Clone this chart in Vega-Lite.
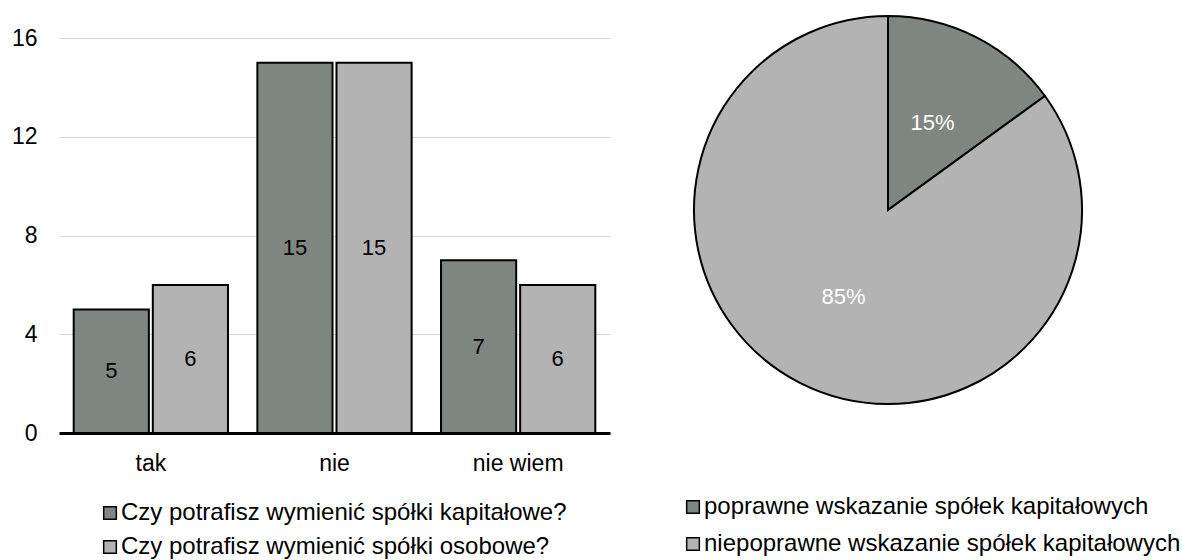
{
  "$schema": "https://vega.github.io/schema/vega-lite/v6.json",
  "padding": {"left": 11, "top": 12, "right": 0, "bottom": 0},
  "spacing": 71,
  "config": {
    "view": {"stroke": null},
    "font": "Liberation Sans",
    "text": {"font": "Liberation Sans"},
    "legend": {"labelFont": "Liberation Sans", "padding": 0},
    "axis": {"labelFont": "Liberation Sans"}
  },
  "resolve": {"scale": {"color": "independent"}, "legend": {"color": "independent"}},
  "hconcat": [
    {
      "width": 551,
      "height": 395,
      "data": {
        "values": [
          {"odpowiedz": "tak", "pytanie": "Czy potrafisz wymienić spółki kapitałowe?", "liczba": 5},
          {"odpowiedz": "tak", "pytanie": "Czy potrafisz wymienić spółki osobowe?", "liczba": 6},
          {"odpowiedz": "nie", "pytanie": "Czy potrafisz wymienić spółki kapitałowe?", "liczba": 15},
          {"odpowiedz": "nie", "pytanie": "Czy potrafisz wymienić spółki osobowe?", "liczba": 15},
          {"odpowiedz": "nie wiem", "pytanie": "Czy potrafisz wymienić spółki kapitałowe?", "liczba": 7},
          {"odpowiedz": "nie wiem", "pytanie": "Czy potrafisz wymienić spółki osobowe?", "liczba": 6}
        ]
      },
      "encoding": {
        "x": {
          "field": "odpowiedz", "type": "nominal", "sort": ["tak", "nie", "nie wiem"],
          "scale": {"paddingInner": 0.16, "paddingOuter": 0.08},
          "axis": {"title": null, "labelAngle": 0, "labelFontSize": 23, "labelColor": "#000", "domainColor": "#000", "domainWidth": 3, "ticks": false, "labelPadding": 19, "grid": false}
        },
        "xOffset": {
          "field": "pytanie", "type": "nominal",
          "sort": ["Czy potrafisz wymienić spółki kapitałowe?", "Czy potrafisz wymienić spółki osobowe?"],
          "scale": {"paddingInner": 0.05}
        }
      },
      "layer": [
        {
          "mark": {"type": "bar", "stroke": "#000", "strokeWidth": 2},
          "encoding": {
            "y": {
              "field": "liczba", "type": "quantitative",
              "scale": {"domain": [0, 16], "nice": false},
              "axis": {"values": [0, 4, 8, 12, 16], "title": null, "domain": false, "ticks": false, "labelFontSize": 23, "labelColor": "#000", "labelPadding": 22, "gridColor": "#d9d9d9", "gridWidth": 1}
            },
            "color": {
              "field": "pytanie", "type": "nominal",
              "scale": {
                "domain": ["Czy potrafisz wymienić spółki kapitałowe?", "Czy potrafisz wymienić spółki osobowe?"],
                "range": ["#7f8682", "#b3b3b3"]
              },
              "legend": {
                "title": null, "orient": "none", "legendX": 39, "legendY": 463,
                "symbolType": "square", "symbolSize": 160, "symbolStrokeColor": "#000", "symbolStrokeWidth": 1.5,
                "labelFontSize": 24, "labelColor": "#000", "labelOffset": -1, "rowPadding": 10, "labelLimit": 700
              }
            }
          }
        },
        {
          "mark": {"type": "text", "fontSize": 22, "color": "#000"},
          "encoding": {
            "y": {"field": "liczba", "type": "quantitative", "scale": {"domain": [0, 32], "nice": false}, "axis": null},
            "text": {"field": "liczba", "type": "quantitative"}
          }
        }
      ],
      "resolve": {"scale": {"y": "independent"}}
    },
    {
      "width": 390,
      "height": 344,
      "data": {
        "values": [
          {"odpowiedz": "poprawne wskazanie spółek kapitałowych", "udzial": 0.15},
          {"odpowiedz": "niepoprawne wskazanie spółek kapitałowych", "udzial": 0.85}
        ]
      },
      "encoding": {
        "theta": {"field": "udzial", "type": "quantitative", "stack": true},
        "order": {"field": "udzial", "type": "quantitative", "sort": "ascending"}
      },
      "layer": [
        {
          "mark": {"type": "arc", "radius": 194, "stroke": "#000", "strokeWidth": 2},
          "encoding": {
            "color": {
              "field": "odpowiedz", "type": "nominal",
              "scale": {
                "domain": ["poprawne wskazanie spółek kapitałowych", "niepoprawne wskazanie spółek kapitałowych"],
                "range": ["#7f8682", "#b3b3b3"]
              },
              "legend": {
                "title": null, "orient": "none", "legendX": -12, "legendY": 457,
                "symbolType": "square", "symbolSize": 160, "symbolStrokeColor": "#000", "symbolStrokeWidth": 1.5,
                "labelFontSize": 24, "labelColor": "#000", "labelOffset": -1, "rowPadding": 13, "labelLimit": 700
              }
            }
          }
        },
        {
          "mark": {"type": "text", "radius": 98, "fontSize": 22, "fill": "#ffffff"},
          "encoding": {
            "text": {"field": "udzial", "type": "quantitative", "format": ".0%"}
          }
        }
      ]
    }
  ]
}
